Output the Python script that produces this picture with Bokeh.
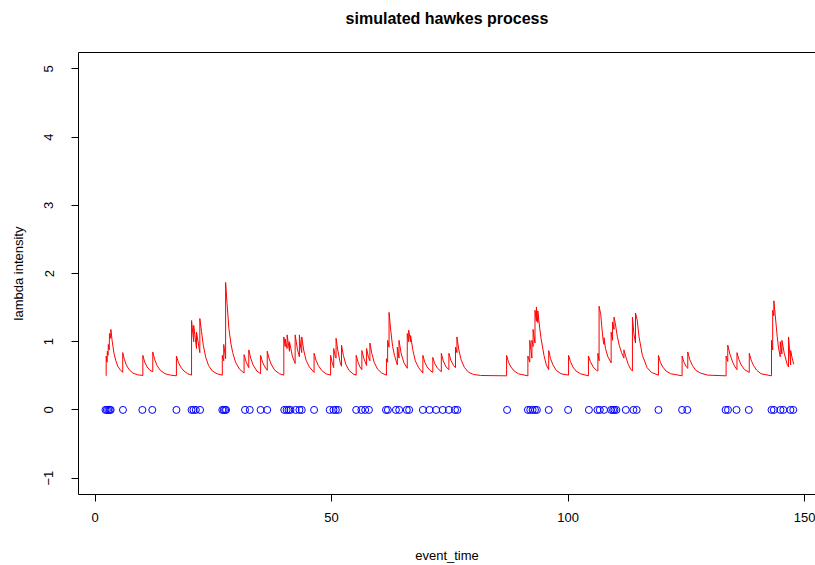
from bokeh.plotting import figure
from bokeh.models import Range1d, FixedTicker, LinearAxis
from bokeh.embed import file_html
from bokeh.resources import INLINE

# event times (blue circles at y = 0)
event_time = [2.2, 2.5, 2.8, 3.1, 3.3, 5.9, 10.0, 12.1, 17.2, 20.4, 20.8, 21.3, 22.2,
              26.9, 27.2, 27.5, 27.7, 31.7, 32.7, 35.0, 36.4, 40.0, 40.5, 40.9, 41.3,
              42.4, 43.2, 43.7, 46.3, 49.6, 50.4, 50.9, 51.4, 55.2, 56.3, 57.1, 57.9,
              61.5, 61.9, 63.6, 64.3, 65.9, 66.4, 69.3, 70.7, 72.1, 73.5, 74.8, 76.1,
              76.6, 87.1, 91.5, 92.0, 92.5, 93.0, 93.4, 95.9, 100.0, 104.4, 106.2, 106.7,
              107.6, 109.1, 109.5, 109.8, 110.2, 112.2, 113.8, 114.5, 119.1, 124.1, 125.2,
              133.3, 133.8, 135.6, 138.2, 143.0, 143.5, 144.9, 145.5, 147.0, 147.6]
event_level = [0] * len(event_time)

# intensity curve: time points and lambda values
intensity_t = [
    2.35, 2.35, 2.55, 2.6, 2.75, 2.8, 3.0, 3.05, 3.3, 3.35, 3.6, 4.0, 4.4, 4.8, 5.3, 5.85,
    5.85, 6.2, 6.6, 7.2, 8.0, 9.0, 10.1,
    10.1, 10.5, 11.0, 11.6, 12.2,
    12.2, 12.6, 13.1, 13.8, 14.8, 16.0, 17.2,
    17.2, 17.6, 18.1, 18.8, 19.6, 20.4,
    20.4, 20.85, 20.85, 21.45, 21.45, 22.15, 22.15, 22.5, 22.9, 23.4, 24.0, 24.8, 25.8, 26.9,
    26.9, 27.2, 27.2, 27.6, 27.6, 27.9, 28.3, 28.7, 29.1, 29.7, 30.5, 31.5,
    31.5, 31.9, 32.5, 32.5, 32.9, 33.4, 34.2, 35.0,
    35.0, 35.4, 35.9, 36.4, 36.4, 36.8, 37.3, 38.0, 39.0, 39.9,
    39.9, 40.2, 40.2, 40.6, 40.6, 41.1, 41.1, 41.7, 42.3, 42.3, 42.8, 43.2, 43.2, 43.5, 43.7,
    43.7, 44.1, 44.6, 45.3, 46.3,
    46.3, 46.7, 47.2, 47.9, 48.8, 49.8,
    49.8, 50.1, 50.45, 50.45, 50.8, 50.95, 50.95, 51.3, 51.8, 52.1, 52.1, 52.5, 53.0, 53.7,
    54.5, 55.2,
    55.2, 55.6, 56.0, 56.4, 56.4, 56.8, 57.4, 57.4, 57.8, 58.1, 58.1, 58.5, 59.0, 59.7, 60.6,
    61.6,
    61.6, 61.85, 61.85, 62.15, 62.15, 62.5, 62.9, 63.3, 63.9, 63.9, 64.25, 64.25, 64.7, 65.3,
    66.0, 66.0, 66.3, 66.3, 66.7, 66.7, 67.2, 67.7, 68.4, 69.3,
    69.3, 69.7, 70.2, 70.8, 71.4, 71.4, 71.8, 72.4, 73.2, 73.2, 73.6, 74.2, 74.8, 74.8, 75.2,
    75.8, 76.2, 76.2, 76.5, 76.5, 76.9, 77.4, 78.1, 79.0, 80.0, 81.5, 87.0,
    87.0, 87.4, 87.9, 88.6, 89.5, 91.5,
    91.5, 91.9, 91.9, 92.35, 92.35, 92.6, 92.6, 93.0, 93.0, 93.3, 93.3, 93.6, 93.6, 94.0, 94.3,
    94.9, 95.4, 95.9, 95.9, 96.3, 96.8, 97.5, 98.5, 100.1,
    100.1, 100.5, 101.0, 101.7, 102.6, 104.3,
    104.3, 104.7, 105.3, 106.0, 106.3, 106.3, 106.55, 106.55, 106.9, 107.1, 107.4, 107.6, 107.6,
    107.9, 108.4, 109.1, 109.1, 109.4, 109.4, 109.7, 109.7, 110.0, 110.4, 110.8, 111.3, 111.8,
    111.8, 112.2, 112.7, 113.2, 113.6, 113.6, 113.9, 114.25, 114.25, 114.6, 115.0, 115.7, 116.7,
    117.6, 119.1,
    119.1, 119.5, 120.0, 120.7, 121.7, 124.1,
    124.1, 124.5, 125.0, 125.3, 125.3, 125.7, 126.3, 127.0, 128.0, 129.5, 133.4,
    133.4, 133.75, 133.75, 134.2, 134.8, 135.2, 135.7, 135.7, 136.1, 136.6, 137.3, 138.3, 138.3,
    138.7, 139.2, 139.9, 140.8, 143.0,
    143.0, 143.25, 143.25, 143.5, 143.5, 143.8, 144.2, 144.5, 144.85, 144.85, 145.2, 145.2,
    145.7, 146.3, 146.6, 146.6, 146.8, 147.05, 147.05, 147.4, 147.7,
]
intensity_lambda = [
    0.50, 0.79, 0.70, 0.86, 0.80, 0.96, 0.88, 1.12, 1.05, 1.18, 1.02, 0.83, 0.72, 0.64, 0.59, 0.55,
    0.84, 0.74, 0.66, 0.59, 0.54, 0.515, 0.505,
    0.80, 0.70, 0.63, 0.58, 0.56,
    0.85, 0.74, 0.65, 0.58, 0.53, 0.51, 0.50,
    0.79, 0.70, 0.63, 0.57, 0.53, 0.51,
    1.31, 1.00, 1.24, 0.90, 1.14, 0.84, 1.34, 1.15, 0.94, 0.77, 0.65, 0.57, 0.53, 0.51,
    0.80, 0.72, 0.96, 0.75, 1.87, 1.56, 1.19, 0.98, 0.84, 0.70, 0.60, 0.54,
    0.81, 0.71, 0.62, 0.88, 0.76, 0.66, 0.57, 0.53,
    0.80, 0.70, 0.63, 0.58, 0.86, 0.75, 0.66, 0.58, 0.53, 0.51,
    1.07, 0.93, 1.04, 0.90, 1.10, 0.86, 1.00, 0.79, 0.68, 1.10, 0.88, 0.78, 1.10, 0.90, 0.84,
    1.07, 0.88, 0.73, 0.63, 0.55,
    0.83, 0.73, 0.65, 0.58, 0.53, 0.51,
    0.80, 0.70, 0.62, 0.90, 0.78, 0.76, 1.05, 0.88, 0.70, 0.64, 0.95, 0.80, 0.67, 0.58,
    0.53, 0.51,
    0.80, 0.70, 0.63, 0.59, 0.87, 0.76, 0.65, 0.90, 0.77, 0.72, 0.98, 0.83, 0.70, 0.60, 0.54,
    0.51,
    0.75, 0.70, 1.02, 0.92, 1.43, 1.17, 0.93, 0.80, 0.66, 0.92, 0.76, 1.02, 0.83, 0.69,
    0.61, 1.12, 1.00, 1.17, 1.00, 1.09, 0.87, 0.72, 0.62, 0.54,
    0.80, 0.70, 0.63, 0.58, 0.55, 0.77, 0.68, 0.61, 0.56, 0.83, 0.72, 0.63, 0.59, 0.83, 0.73,
    0.65, 0.62, 0.92, 0.84, 1.07, 0.88, 0.73, 0.62, 0.55, 0.52, 0.505, 0.50,
    0.80, 0.70, 0.63, 0.57, 0.53, 0.50,
    0.79, 0.70, 1.02, 0.76, 1.02, 0.93, 1.18, 0.98, 1.46, 1.30, 1.51, 1.28, 1.45, 1.20, 1.04,
    0.80, 0.66, 0.59, 0.87, 0.75, 0.66, 0.58, 0.53, 0.51,
    0.80, 0.71, 0.63, 0.57, 0.53, 0.50,
    0.79, 0.71, 0.63, 0.58, 0.57, 0.83, 0.72, 1.52, 1.40, 1.24, 1.02, 0.96, 1.06,
    0.90, 0.78, 0.69, 1.14, 1.02, 1.29, 1.18, 1.36, 1.26, 1.08, 0.95, 0.84, 0.76,
    0.88, 0.78, 0.67, 0.60, 0.57, 1.36, 1.12, 0.98, 1.42, 1.32, 1.07, 0.80, 0.62,
    0.55, 0.51,
    0.80, 0.70, 0.63, 0.57, 0.53, 0.50,
    0.79, 0.70, 0.63, 0.61, 0.85, 0.74, 0.65, 0.58, 0.54, 0.51, 0.50,
    0.79, 0.71, 0.95, 0.82, 0.70, 0.64, 0.59, 0.84, 0.74, 0.66, 0.59, 0.55, 0.83,
    0.73, 0.65, 0.58, 0.53, 0.50,
    1.02, 0.88, 1.46, 1.38, 1.60, 1.38, 1.08, 0.90, 0.78, 1.00, 0.82, 1.02,
    0.83, 0.67, 0.63, 1.07, 0.90, 0.66, 0.87, 0.75, 0.67,
]

x_ticks = [0, 50, 100, 150]
y_ticks = [-1, 0, 1, 2, 3, 4, 5]
title_text = "simulated hawkes process"

FONT = "Liberation Sans"

p = figure(width=815, height=565, output_backend="svg", toolbar_location=None,
           x_range=Range1d(-3.5, 152.3), y_range=Range1d(-1.24, 5.24),
           min_border_left=78, min_border_right=0, min_border_top=52, min_border_bottom=70,
           outline_line_color=None, background_fill_color="white", border_fill_color="white")

p.xgrid.visible = False
p.ygrid.visible = False

for ax in (p.xaxis[0], p.yaxis[0]):
    ax.major_tick_in = 0
    ax.major_tick_out = 7
    ax.minor_tick_in = 0
    ax.minor_tick_out = 0
    ax.axis_line_color = "black"
    ax.major_tick_line_color = "black"
    ax.major_label_text_font = FONT
    ax.major_label_text_font_size = "13px"
    ax.major_label_text_color = "black"
    ax.axis_label_text_font = FONT
    ax.axis_label_text_font_size = "13px"
    ax.axis_label_text_font_style = "normal"
    ax.axis_label_text_color = "black"

p.xaxis[0].ticker = FixedTicker(ticks=x_ticks)
p.xaxis[0].axis_label = "event_time"
p.xaxis[0].major_label_standoff = 11
p.xaxis[0].axis_label_standoff = 23

p.yaxis[0].ticker = FixedTicker(ticks=y_ticks)
p.yaxis[0].axis_label = "lambda intensity"
p.yaxis[0].major_label_orientation = "vertical"
p.yaxis[0].major_label_standoff = 18
p.yaxis[0].axis_label_standoff = 16

# top border line, carrying the chart title as its label
top = LinearAxis(ticker=FixedTicker(ticks=[]), axis_line_color="black",
                 major_tick_in=0, major_tick_out=0, minor_tick_in=0, minor_tick_out=0,
                 major_label_text_font_size="0px",
                 axis_label=title_text, axis_label_standoff=26,
                 axis_label_text_font=FONT, axis_label_text_font_size="16px",
                 axis_label_text_font_style="bold", axis_label_text_color="black")
p.add_layout(top, "above")

p.line(intensity_t, intensity_lambda, line_color="red", line_width=1)
p.scatter(event_time, event_level, marker="circle", size=7, fill_color=None,
          line_color="blue", line_width=1)

open("out.html", "w").write(file_html(p, INLINE))
